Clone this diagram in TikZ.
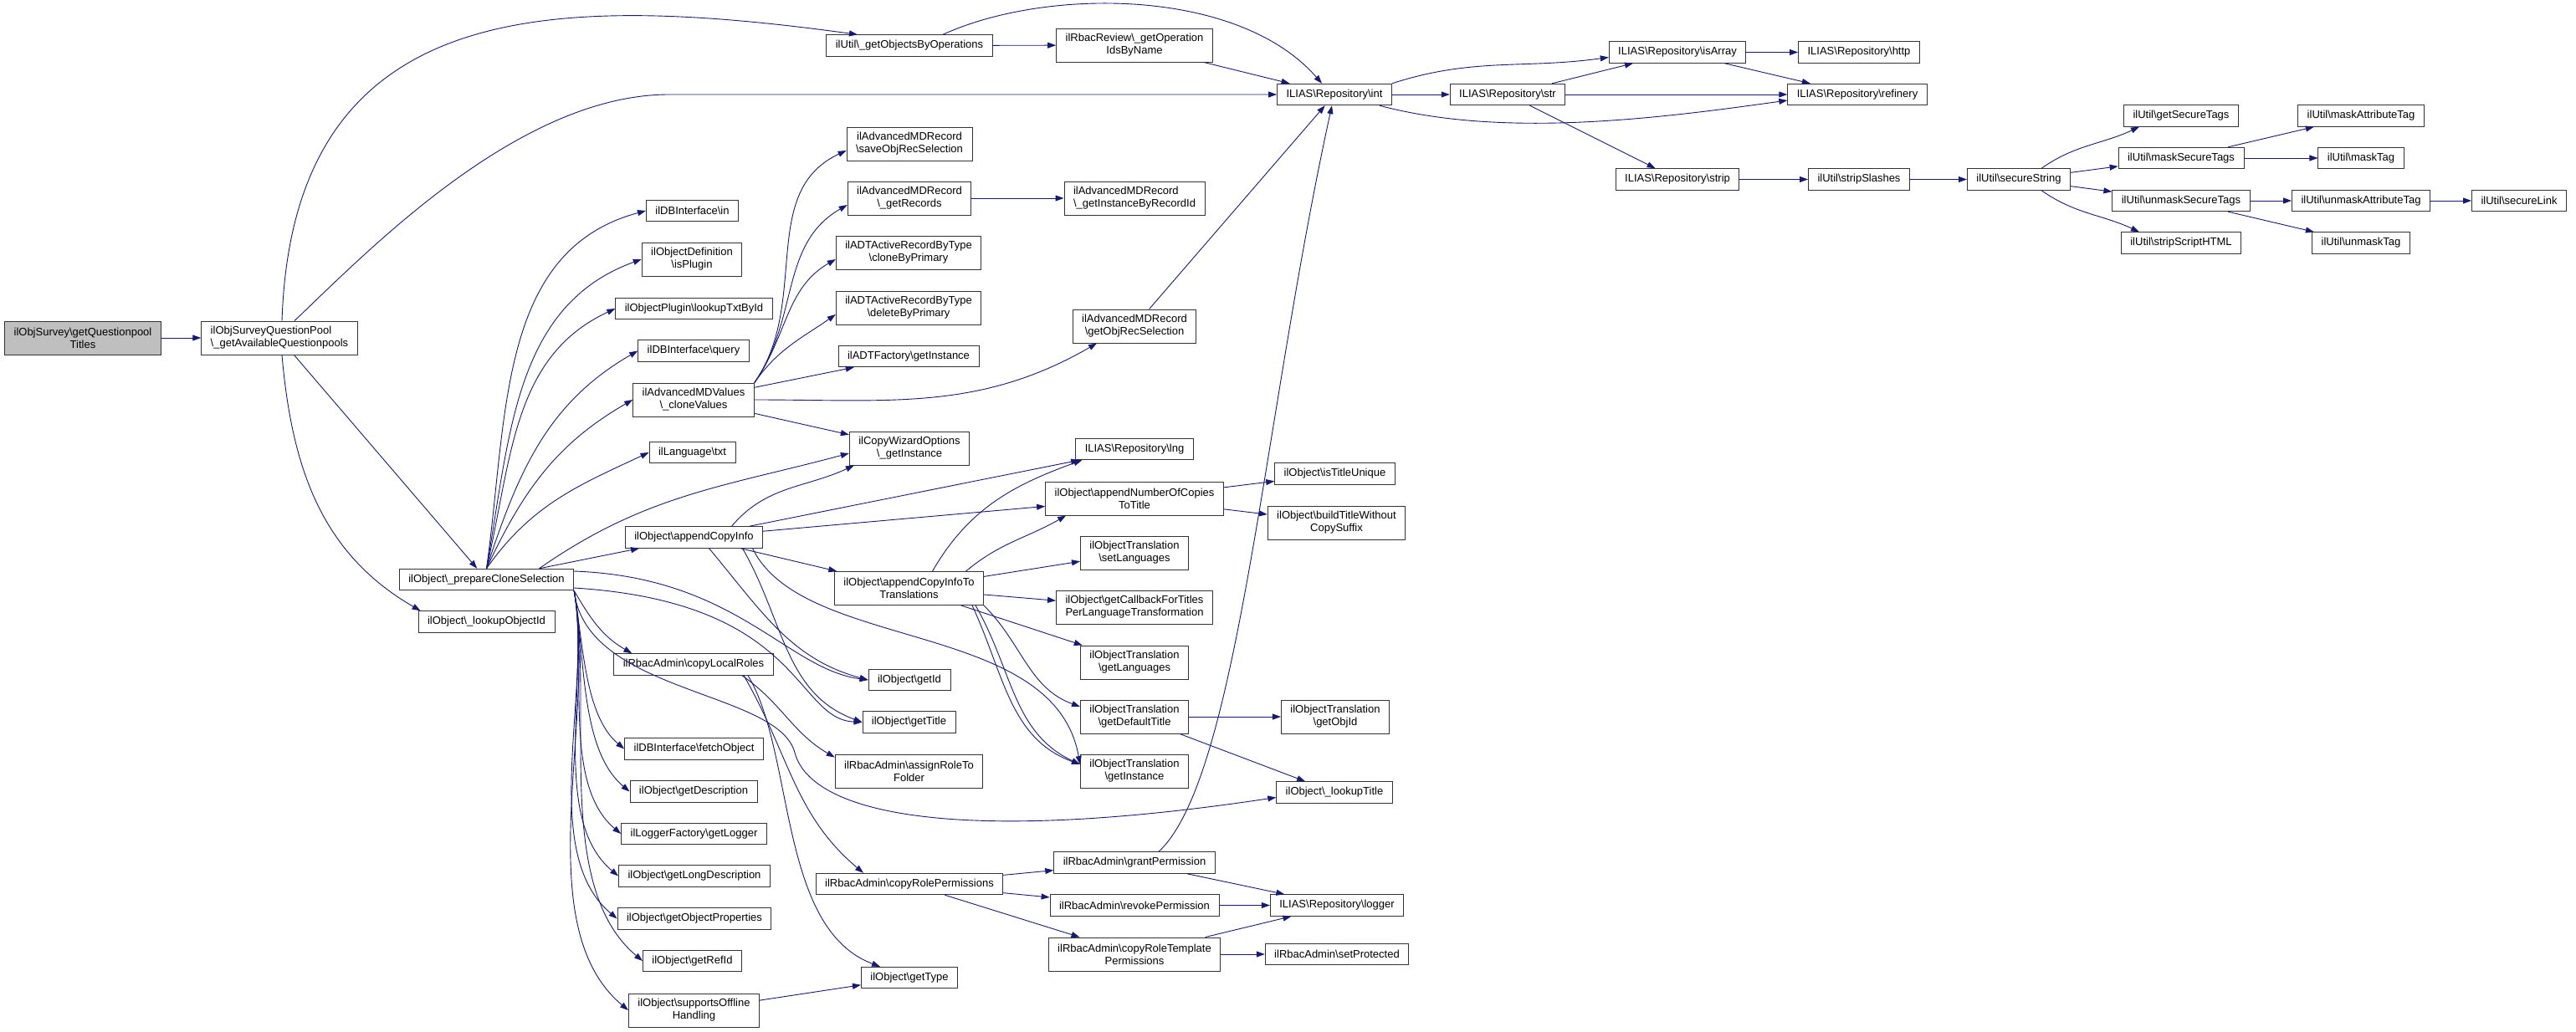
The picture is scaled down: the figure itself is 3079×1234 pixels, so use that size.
\documentclass[tikz,border=0pt]{standalone}
\usepackage{fontspec}
\setmainfont{Liberation Sans}
\usetikzlibrary{arrows.meta}
\definecolor{edgeblue}{RGB}{25,25,112}
\definecolor{rootgray}{RGB}{191,191,191}
\newcommand{\bsl}{\textbackslash}

\begin{document}
\begin{tikzpicture}[x=1pt, y=1pt,
      func/.style={draw=black!80, line width=0.9pt, fill=white, inner xsep=11pt, inner ysep=3pt,
         minimum height=25.5pt, align=center, font=\fontsize{13}{15}\selectfont},
      functwo/.style={func, minimum height=40pt},
      calledge/.style={draw=edgeblue, line width=0.9pt, -{Triangle[length=10pt, width=7pt]}}]
   \useasboundingbox (0,0) rectangle (3079,-1234);
   \def \OneLine {
      getobjops/1087/54.5/ilUtil\bsl\_getObjectsByOperations,
      prepclone/581.5/693/ilObject\bsl\_prepareCloneSelection,
      lookupobjid/581.5/743.5/ilObject\bsl\_lookupObjectId,
      dbin/827.5/252/ilDBInterface\bsl in,
      lookuptxt/829.5/369/ilObjectPlugin\bsl lookupTxtById,
      dbquery/829/419.5/ilDBInterface\bsl query,
      langtxt/827.5/541/ilLanguage\bsl txt,
      appendcopy/829.5/642.5/ilObject\bsl appendCopyInfo,
      copylocal/829/794.5/ilRbacAdmin\bsl copyLocalRoles,
      fetchobj/829.5/895.5/ilDBInterface\bsl fetchObject,
      getdesc/829/946.5/ilObject\bsl getDescription,
      getlogger/829.5/997/ilLoggerFactory\bsl getLogger,
      getlongdesc/830/1047.5/ilObject\bsl getLongDescription,
      getobjprops/830/1098.5/ilObject\bsl getObjectProperties,
      getrefid/827.5/1149/ilObject\bsl getRefId,
      adtfactory/1086/426/ilADTFactory\bsl getInstance,
      getid/1087/813/ilObject\bsl getId,
      gettitle/1086.5/863.5/ilObject\bsl getTitle,
      copyroleperm/1087/1057/ilRbacAdmin\bsl copyRolePermissions,
      gettype/1087/1169/ilObject\bsl getType,
      replng/1356/537/ILIAS\bsl Repository\bsl lng,
      grantperm/1356/1031.5/ilRbacAdmin\bsl grantPermission,
      revokeperm/1356/1082.5/ilRbacAdmin\bsl revokePermission,
      repint/1595/113/ILIAS\bsl Repository\bsl int,
      titleunique/1595.5/566.5/ilObject\bsl isTitleUnique,
      lookuptitle/1595/947.5/ilObject\bsl\_lookupTitle,
      replogger/1598/1082.5/ILIAS\bsl Repository\bsl logger,
      setprotected/1598/1141/ilRbacAdmin\bsl setProtected,
      repstr/1802/113/ILIAS\bsl Repository\bsl str,
      isarray/2005/62.5/ILIAS\bsl Repository\bsl isArray,
      strip/2005/214.5/ILIAS\bsl Repository\bsl strip,
      http/2222/62.5/ILIAS\bsl Repository\bsl http,
      refinery/2220/113/ILIAS\bsl Repository\bsl refinery,
      stripslashes/2222/214.5/ilUtil\bsl stripSlashes,
      securestring/2413/214.5/ilUtil\bsl secureString,
      getsecure/2607/138.5/ilUtil\bsl getSecureTags,
      masksecure/2607/189/ilUtil\bsl maskSecureTags,
      unmasksecure/2607/240/ilUtil\bsl unmaskSecureTags,
      stripscript/2607/290.5/ilUtil\bsl stripScriptHTML,
      maskattr/2822/138.5/ilUtil\bsl maskAttributeTag,
      masktag/2822/189/ilUtil\bsl maskTag,
      unmaskattr/2822/240/ilUtil\bsl unmaskAttributeTag,
      unmasktag/2822/290.5/ilUtil\bsl unmaskTag,
      securelink/3011/240/ilUtil\bsl secureLink}
   \def \TwoLine {
      isplugin/827/310/ilObjectDefinition\\\bsl isPlugin,
      clonevals/829/478/ilAdvancedMDValues\\\bsl\_cloneValues,
      offline/829.5/1208/ilObject\bsl supportsOffline\\Handling,
      saveobjrec/1087/172/ilAdvancedMDRecord\\\bsl saveObjRecSelection,
      getrecords/1087/237/ilAdvancedMDRecord\\\bsl\_getRecords,
      clonebyprim/1086/302/ilADTActiveRecordByType\\\bsl cloneByPrimary,
      deletebyprim/1086/368/ilADTActiveRecordByType\\\bsl deleteByPrimary,
      copywizard/1087/536/ilCopyWizardOptions\\\bsl\_getInstance,
      appendtrans/1086.5/703.5/ilObject\bsl appendCopyInfoTo\\Translations,
      assignrole/1086.5/922/ilRbacAdmin\bsl assignRoleTo\\Folder,
      opids/1356/54/ilRbacReview\bsl\_getOperation\\IdsByName,
      getobjrec/1356/390/ilAdvancedMDRecord\\\bsl getObjRecSelection,
      numcopies/1356/596/ilObject\bsl appendNumberOfCopies\\ToTitle,
      setlangs/1356/661/ilObjectTranslation\\\bsl setLanguages,
      callback/1356/726/ilObject\bsl getCallbackForTitles\\PerLanguageTransformation,
      getlangs/1356/792/ilObjectTranslation\\\bsl getLanguages,
      defaulttitle/1356/857/ilObjectTranslation\\\bsl getDefaultTitle,
      transinst/1356/922/ilObjectTranslation\\\bsl getInstance,
      roletempl/1356/1141/ilRbacAdmin\bsl copyRoleTemplate\\Permissions,
      buildtitle/1597.5/625/ilObject\bsl buildTitleWithout\\CopySuffix,
      objid/1596/857/ilObjectTranslation\\\bsl getObjId}
   \def \TwoLineLeft {
      qpool/334/404/ilObjSurveyQuestionPool\\\bsl\_getAvailableQuestionpools,
      instbyrec/1356/237/ilAdvancedMDRecord\\\bsl\_getInstanceByRecordId}
   \def \Straight {
      root/qpool,
      qpool/prepclone,
      getobjops/opids,
      opids/repint,
      getobjrec/repint,
      repint/repstr,
      repstr/isarray,
      repstr/refinery,
      repstr/strip,
      isarray/http,
      isarray/refinery,
      strip/stripslashes,
      stripslashes/securestring,
      securestring/masksecure,
      securestring/unmasksecure,
      masksecure/maskattr,
      masksecure/masktag,
      unmasksecure/unmaskattr,
      unmasksecure/unmasktag,
      unmaskattr/securelink,
      getrecords/instbyrec,
      clonevals/adtfactory,
      clonevals/copywizard,
      appendcopy/replng,
      appendcopy/numcopies,
      appendcopy/appendtrans,
      appendtrans/setlangs,
      appendtrans/callback,
      appendtrans/getlangs,
      numcopies/titleunique,
      numcopies/buildtitle,
      defaulttitle/objid,
      defaulttitle/lookuptitle,
      copyroleperm/grantperm,
      copyroleperm/revokeperm,
      copyroleperm/roletempl,
      grantperm/replogger,
      revokeperm/replogger,
      roletempl/replogger,
      roletempl/setprotected,
      offline/gettype}
   \def \Bent {
      qpool.south/3/0/lookupobjid.north west/3/0/-85/150/1,
      prepclone.north/0/0/dbin.west/0/0/82/195/1,
      prepclone.north/0/0/isplugin.west/0/0/80/200/1,
      prepclone.north/0/0/lookuptxt.west/0/0/77/205/1,
      prepclone.north/0/0/dbquery.west/0/0/72/210/1,
      prepclone.north/0/0/clonevals.west/0/0/65/210/1,
      prepclone.north/0/0/langtxt.west/0/0/55/205/1,
      prepclone.north/63/0/copywizard.west/0/-6/35/195/1,
      prepclone.south east/0/0/copylocal.north west/22/0/-60/150/1,
      prepclone.south east/0/0/fetchobj.west/0/0/-80/140/0.8,
      prepclone.south east/0/0/getdesc.west/0/0/-80/140/0.8,
      prepclone.south east/0/0/getlogger.west/0/0/-80/140/0.8,
      prepclone.south east/0/0/getlongdesc.west/0/0/-80/140/0.8,
      prepclone.south east/0/0/getobjprops.west/0/0/-80/140/0.8,
      prepclone.south east/0/0/getrefid.west/0/0/-80/140/0.8,
      prepclone.south east/0/0/offline.west/0/0/-80/140/0.8,
      clonevals.north east/0/0/saveobjrec.west/0/-8/55/205/1,
      clonevals.north east/0/0/getrecords.west/0/-8/55/210/1,
      clonevals.north east/0/0/clonebyprim.west/0/-8/55/210/1,
      clonevals.north east/0/0/deletebyprim.west/0/-8/55/215/1,
      clonevals.east/0/0/getobjrec.south/-45/0/0/210/1,
      appendcopy.north/45/0/copywizard.south west/6/0/50/205/1,
      appendcopy.south/18/0/getid.west/0/0/-50/165/1,
      appendcopy.south/58/0/gettitle.west/0/0/-60/160/1,
      appendtrans.north/28/0/replng.south west/8/0/60/200/1,
      appendtrans.north/68/0/numcopies.south west/25/0/40/210/1,
      appendtrans.south east/0/0/defaulttitle.west/0/12/-45/160/1,
      appendtrans.south east/-10/0/transinst.west/0/8/-60/155/1,
      appendtrans.south east/-14/0/transinst.west/0/8/-65/160/1,
      copylocal.south/58/0/assignrole.north west/0/-4/-35/150/1,
      copylocal.south/60/0/copyroleperm.north/-55/0/-60/140/1,
      repint.north east/0/0/isarray.west/0/-6/18/188/1,
      repint.south east/-15/0/refinery.west/0/-7/-15/188/0.8,
      securestring.north/27/0/getsecure.south/-50/0/35/205/1,
      securestring.south/27/0/stripscript.north/-50/0/-35/155/1}
   \node[functwo, fill=rootgray] (root) at (99,-404) {ilObjSurvey\bsl getQuestionpool\\Titles};
   \foreach \name / \x / \y / \txt in \OneLine {
      \node[func] (\name) at (\x,-\y) {\txt};
   }
   \foreach \name / \x / \y / \txt in \TwoLine {
      \node[functwo] (\name) at (\x,-\y) {\txt};
   }
   \foreach \name / \x / \y / \txt in \TwoLineLeft {
      \node[functwo, align=left] (\name) at (\x,-\y) {\txt};
   }
   \foreach \src / \dst in \Straight {
      \path[calledge] (\src) -- (\dst);
   }
   \foreach \src / \sx / \sy / \dst / \dx / \dy / \aout / \ain / \loose in \Bent {
      \path[calledge] ([shift={(\sx,\sy)}]\src) to[out=\aout, in=\ain, looseness=\loose] ([shift={(\dx,\dy)}]\dst);
   }
   \path[calledge] ([xshift=63pt]prepclone.north) -- (appendcopy);
   \path[calledge] ([xshift=3pt]qpool.north) .. controls (350,0) and (650,10) .. ([xshift=-62pt]getobjops.north);
   \path[calledge] ([xshift=18pt]qpool.north) .. controls (440,-300) and (620,-113) .. (800,-113) -- (repint.west);
   \path[calledge] ([xshift=40pt]getobjops.north) .. controls (1250,15) and (1480,15) .. ([xshift=-15pt]repint.north);
   \path[calledge] ([xshift=29pt]grantperm.north) .. controls (1480,-930) and (1510,-500) .. ([xshift=-3pt]repint.south);
   \path[calledge] ([yshift=10pt]prepclone.east) .. controls (880,-690) and (940,-800) .. (getid.west);
   \path[calledge] ([yshift=-10pt]prepclone.east) .. controls (960,-720) and (950,-860) .. (gettitle.west);
   \path[calledge] (prepclone.south east) .. controls (700,-830) and (930,-825) .. (950,-900)
      .. controls (970,-975) and (1150,-1010) .. ([yshift=-6pt]lookuptitle.west);
   \path[calledge] ([xshift=70pt]appendcopy.south) .. controls (960,-780) and (1260,-740) .. ([yshift=8pt]transinst.west);
   \path[calledge] ([xshift=65pt]copylocal.south) .. controls (950,-900) and (930,-1110) .. ([xshift=-35pt]gettype.north);
\end{tikzpicture}
\end{document}
